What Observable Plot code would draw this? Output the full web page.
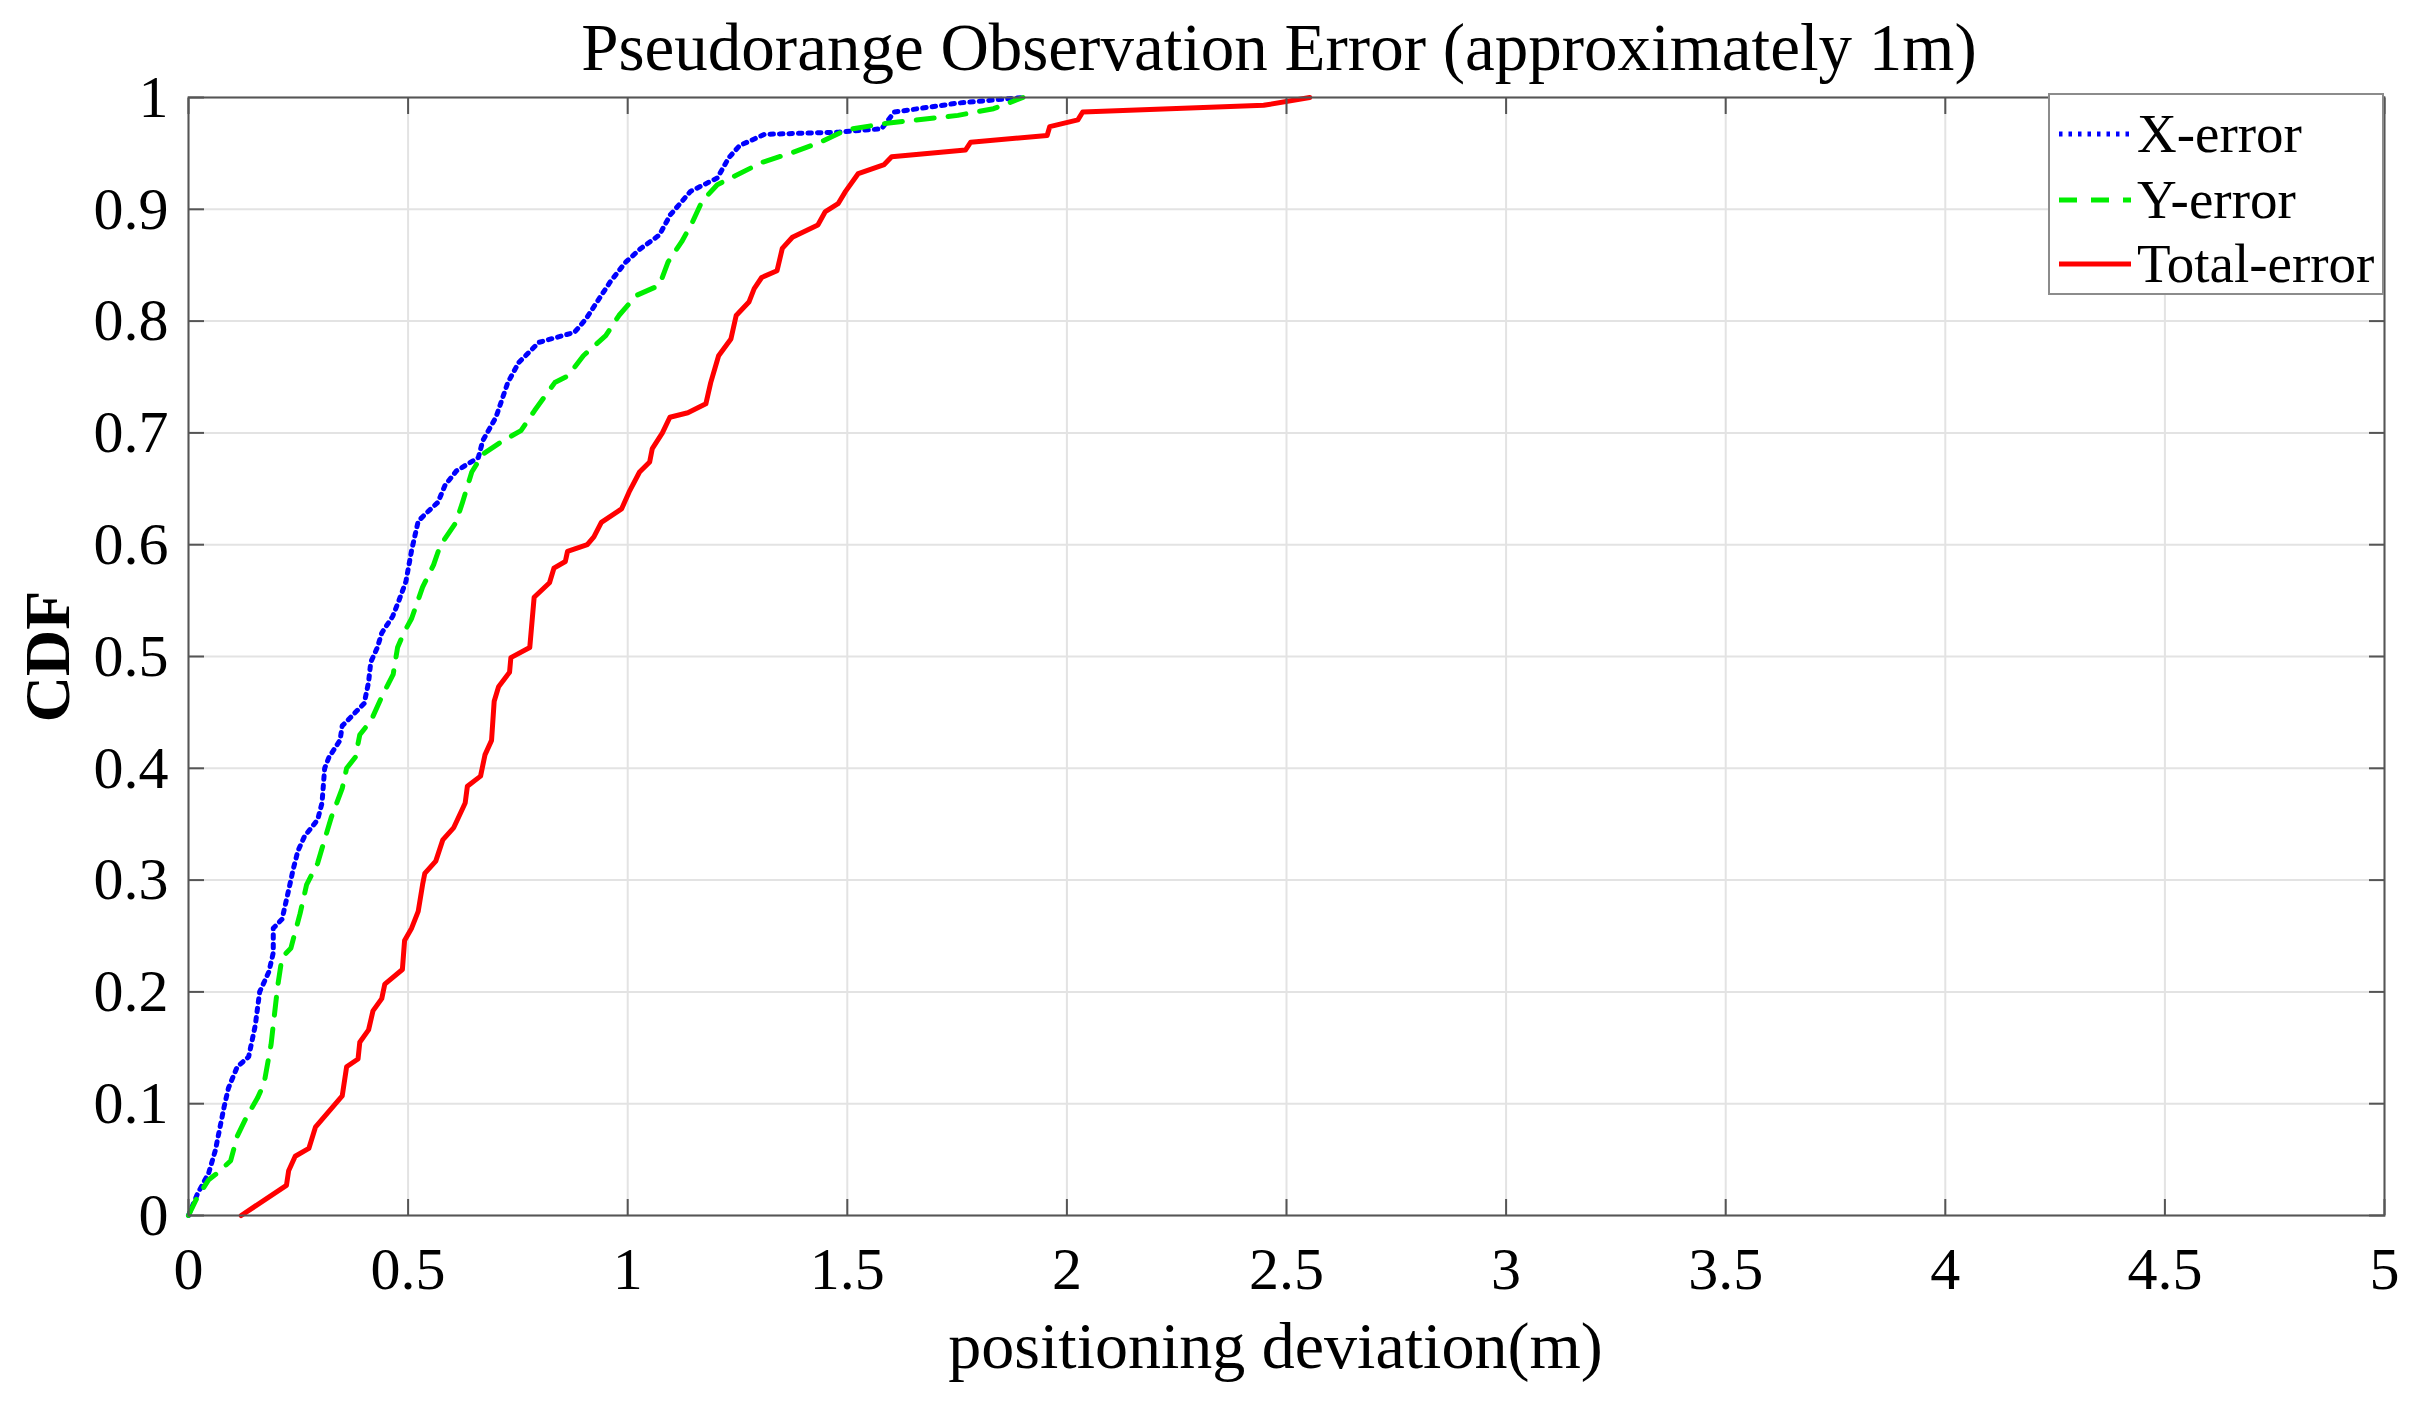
<!DOCTYPE html>
<html><head><meta charset="utf-8">
<script src="https://cdn.jsdelivr.net/npm/d3@7"></script>
<script src="https://cdn.jsdelivr.net/npm/@observablehq/plot@0.6"></script>
<style>
body{margin:0;background:#fff;}
#wrap{position:relative;width:2430px;height:1408px;font-family:"Liberation Serif","Times New Roman",serif;color:#000;}
#title{height:80px;box-sizing:border-box;padding:14px 60px 0 188px;text-align:center;font-size:67px;line-height:1;white-space:nowrap;}
#chart svg{overflow:visible;display:block;}
#legend{position:absolute;left:2048px;top:93px;width:336px;height:202px;border:2px solid #8c8c8c;background:#fff;box-sizing:border-box;}
.row{position:absolute;left:0;height:66px;line-height:66px;font-size:55px;white-space:nowrap;}
.row svg{position:absolute;left:7px;top:23px;}
.row span{position:absolute;left:87px;top:0;}
</style></head>
<body>
<div id="wrap">
  <div id="title">Pseudorange Observation Error (approximately 1m)</div>
  <div id="chart"></div>
  <div id="legend"></div>
</div>
<script>
// ---- data ----
const xTicks = [0, 0.5, 1, 1.5, 2, 2.5, 3, 3.5, 4, 4.5, 5];
const yTicks = [0, 0.1, 0.2, 0.3, 0.4, 0.5, 0.6, 0.7, 0.8, 0.9, 1];
const seriesNames = ["X-error", "Y-error", "Total-error"];

const xErrDev = [0, 0.02, 0.046, 0.061, 0.081, 0.091, 0.111, 0.137, 0.152, 0.162, 0.183, 0.193, 0.193, 0.213, 0.228, 0.238, 0.249, 0.264, 0.294, 0.304, 0.31, 0.32, 0.345, 0.35, 0.4, 0.41, 0.415, 0.43, 0.44, 0.465, 0.48, 0.495, 0.508, 0.523, 0.538, 0.568, 0.584, 0.61, 0.66, 0.67, 0.70, 0.727, 0.752, 0.798, 0.879, 0.905, 0.93, 0.96, 0.996, 1.03, 1.072, 1.097, 1.143, 1.204, 1.23, 1.255, 1.311, 1.48, 1.578, 1.607, 1.752, 1.868, 1.90];
const xErrCdf = [0, 0.019, 0.038, 0.058, 0.097, 0.114, 0.133, 0.142, 0.17, 0.2, 0.218, 0.235, 0.257, 0.265, 0.291, 0.309, 0.326, 0.339, 0.354, 0.369, 0.4, 0.41, 0.425, 0.438, 0.458, 0.477, 0.495, 0.508, 0.521, 0.536, 0.551, 0.567, 0.595, 0.621, 0.627, 0.638, 0.653, 0.666, 0.678, 0.693, 0.714, 0.745, 0.763, 0.781, 0.79, 0.802, 0.817, 0.835, 0.853, 0.865, 0.877, 0.895, 0.916, 0.928, 0.946, 0.957, 0.967, 0.969, 0.972, 0.987, 0.995, 0.999, 1.0];

const yErrDev = [0, 0.017, 0.046, 0.066, 0.096, 0.111, 0.132, 0.157, 0.172, 0.188, 0.203, 0.213, 0.233, 0.254, 0.269, 0.294, 0.309, 0.325, 0.35, 0.36, 0.38, 0.39, 0.416, 0.44, 0.466, 0.476, 0.49, 0.508, 0.533, 0.558, 0.573, 0.609, 0.624, 0.645, 0.67, 0.716, 0.757, 0.788, 0.834, 0.864, 0.899, 0.95, 0.98, 1.02, 1.072, 1.092, 1.123, 1.148, 1.169, 1.204, 1.245, 1.306, 1.377, 1.438, 1.497, 1.59, 1.752, 1.833, 1.90];
const yErrCdf = [0, 0.014, 0.032, 0.038, 0.049, 0.071, 0.088, 0.105, 0.118, 0.153, 0.205, 0.231, 0.239, 0.27, 0.296, 0.315, 0.335, 0.356, 0.382, 0.4, 0.41, 0.43, 0.443, 0.464, 0.484, 0.508, 0.521, 0.534, 0.562, 0.582, 0.599, 0.62, 0.638, 0.665, 0.681, 0.693, 0.702, 0.72, 0.745, 0.751, 0.769, 0.787, 0.805, 0.823, 0.832, 0.853, 0.871, 0.889, 0.907, 0.922, 0.93, 0.942, 0.951, 0.96, 0.971, 0.977, 0.984, 0.99, 1.0];

const totDev = [0.12, 0.223, 0.228, 0.243, 0.274, 0.289, 0.35, 0.36, 0.386, 0.39, 0.41, 0.42, 0.44, 0.447, 0.487, 0.492, 0.508, 0.523, 0.533, 0.538, 0.563, 0.579, 0.604, 0.63, 0.635, 0.665, 0.675, 0.69, 0.696, 0.706, 0.731, 0.734, 0.777, 0.787, 0.822, 0.832, 0.858, 0.863, 0.908, 0.923, 0.94, 0.986, 1.003, 1.027, 1.05, 1.056, 1.079, 1.096, 1.137, 1.178, 1.189, 1.207, 1.235, 1.247, 1.276, 1.288, 1.305, 1.34, 1.352, 1.375, 1.433, 1.45, 1.479, 1.496, 1.525, 1.584, 1.601, 1.769, 1.781, 1.955, 1.961, 2.025, 2.036, 2.448, 2.553];
const totCdf = [0, 0.027, 0.04, 0.053, 0.06, 0.079, 0.107, 0.133, 0.14, 0.155, 0.166, 0.183, 0.194, 0.207, 0.22, 0.246, 0.257, 0.272, 0.296, 0.306, 0.317, 0.336, 0.347, 0.369, 0.384, 0.393, 0.412, 0.425, 0.46, 0.473, 0.486, 0.499, 0.508, 0.553, 0.566, 0.579, 0.585, 0.594, 0.60, 0.607, 0.62, 0.632, 0.647, 0.665, 0.674, 0.686, 0.70, 0.714, 0.718, 0.726, 0.745, 0.769, 0.784, 0.805, 0.817, 0.829, 0.839, 0.845, 0.865, 0.875, 0.886, 0.898, 0.905, 0.916, 0.932, 0.94, 0.947, 0.953, 0.96, 0.966, 0.974, 0.98, 0.987, 0.993, 1.0];

// ---- build ----
const toPts = (xs, ys) => xs.map((x, i) => ({x, y: ys[i]}));
const xData = toPts(xErrDev, xErrCdf);
const yData = toPts(yErrDev, yErrCdf);
const tData = toPts(totDev, totCdf);

const styles = [
  {stroke: "#0000ff", strokeWidth: 5, strokeDasharray: "3.5,6"},
  {stroke: "#00ee00", strokeWidth: 5, strokeDasharray: "18,14"},
  {stroke: "#ff0000", strokeWidth: 5, strokeDasharray: null}
];

const fmt = d => String(d);
const chart = Plot.plot({
  width: 2430,
  height: 1328,
  marginLeft: 188,
  marginRight: 46,
  marginTop: 17,
  marginBottom: 193,
  style: {fontFamily: "'Liberation Serif','Times New Roman',serif", fontSize: "60px", color: "#000", background: "#fff"},
  x: {domain: [0, 5]},
  y: {domain: [0, 1]},
  marks: [
    Plot.ruleX(xTicks, {stroke: "#e3e3e3", strokeWidth: 2}),
    Plot.ruleY(yTicks, {stroke: "#e3e3e3", strokeWidth: 2}),
    Plot.line(xData, {x: "x", y: "y", ...styles[0]}),
    Plot.line(yData, {x: "x", y: "y", ...styles[1]}),
    Plot.line(tData, {x: "x", y: "y", ...styles[2]}),
    Plot.axisX(xTicks, {anchor: "bottom", tickSize: 0, tickPadding: 31, tickFormat: fmt, fontSize: 60, label: null}),
    Plot.axisY(yTicks, {anchor: "left", tickSize: 0, tickPadding: 20, tickFormat: fmt, fontSize: 60, label: null}),
    Plot.axisX(xTicks, {anchor: "bottom", tickSize: -16, fill: "none", stroke: "#555", strokeWidth: 2, label: null}),
    Plot.axisX(xTicks, {anchor: "top", tickSize: -16, fill: "none", stroke: "#555", strokeWidth: 2, label: null}),
    Plot.axisY(yTicks, {anchor: "left", tickSize: -16, fill: "none", stroke: "#555", strokeWidth: 2, label: null}),
    Plot.axisY(yTicks, {anchor: "right", tickSize: -16, fill: "none", stroke: "#555", strokeWidth: 2, label: null}),
    Plot.frame({stroke: "#555", strokeWidth: 2}),
    Plot.text(["positioning deviation(m)"], {frameAnchor: "bottom", dx: -11, dy: 152, fontSize: 66}),
    Plot.text(["CDF"], {frameAnchor: "left", textAnchor: "middle", rotate: -90, dx: -140, fontSize: 64, fontWeight: "bold"})
  ]
});
document.getElementById("chart").appendChild(chart);

// ---- legend ----
const legend = document.getElementById("legend");
const rowCenters = [39, 105, 169];
seriesNames.forEach((name, i) => {
  const row = document.createElement("div");
  row.className = "row";
  row.style.top = (rowCenters[i] - 33) + "px";
  const s = styles[i];
  row.innerHTML = `<svg width="76" height="20"><line x1="2" x2="74" y1="10" y2="10" stroke="${s.stroke}" stroke-width="${s.strokeWidth}" ${s.strokeDasharray ? `stroke-dasharray="${s.strokeDasharray}"` : ""}/></svg><span>${name}</span>`;
  legend.appendChild(row);
});
</script>
</body></html>
